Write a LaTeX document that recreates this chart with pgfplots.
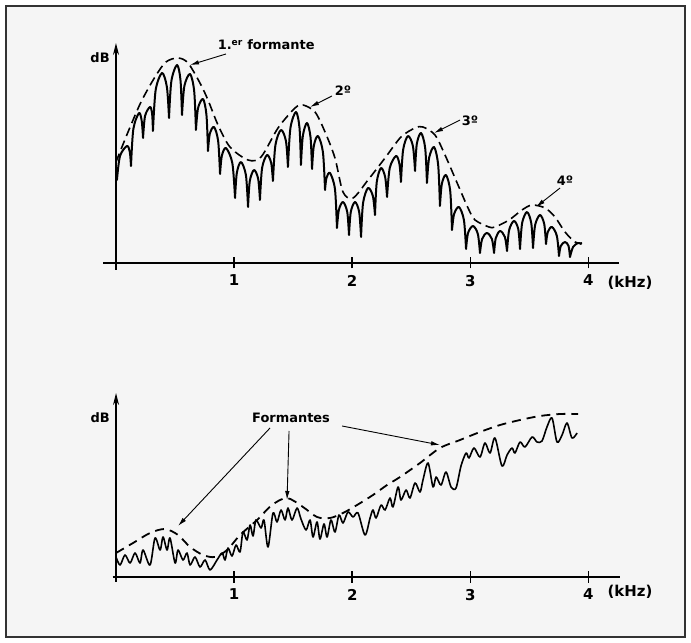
\documentclass[border=0pt]{standalone}
\usepackage{fontspec}
\setmainfont{DejaVu Sans}
\usepackage{pgfplots}
\pgfplotsset{compat=1.18}
\usetikzlibrary{arrows.meta}
\tikzset{
 ann/.style={-{Latex[length=9bp,width=4.5bp]}, line width=0.9bp},
 lab/.style={font=\bfseries\fontsize{13}{15}\selectfont, inner sep=0pt},
}
\pgfplotsset{
 myaxis/.style={
  scale only axis, axis lines=middle,
  x axis line style={-, line width=1.4bp},
  y axis line style={-{Stealth[length=12bp,width=6bp]}, line width=1.4bp},
  xtick={1,2,3,4}, ytick=\empty,
  major tick length=11bp, tick align=center,
  tick style={line width=1.5bp, black},
  xticklabel style={font=\bfseries\fontsize{15}{17}\selectfont, yshift=-3bp},
  /pgf/number format/assume math mode=true,
  clip=false,
 },
}
\begin{document}
\begin{tikzpicture}
\useasboundingbox (0,0) rectangle (691bp,643bp);
\draw[line width=1.3bp, black!80, fill=black!4] (6bp,6bp) rectangle (685bp,637bp);
% ---------------- top panel ----------------
\begin{axis}[myaxis, at={(103bp,373bp)}, anchor=south west,
  width=516.1bp, height=227bp, xmin=-0.11, xmax=4.26, ymin=-7, ymax=220]
\addplot[smooth, line width=2bp, line cap=round, line join=round, unbounded coords=jump] coordinates {
(0.008,83)(0.034,107)(0.093,117)(0.117,111)(0.127,97) (0.127,nan)
(0.127,97)(0.147,134)(0.195,150)(0.218,142)(0.229,125) (0.229,nan)
(0.229,125)(0.246,147)(0.288,156)(0.306,149)(0.313,132) (0.313,nan)
(0.313,132)(0.336,173)(0.390,190)(0.431,176)(0.449,145) (0.449,nan)
(0.449,145)(0.469,182)(0.517,198)(0.546,183)(0.559,148) (0.559,nan)
(0.559,148)(0.579,177)(0.627,189)(0.662,172)(0.677,133) (0.677,nan)
(0.677,133)(0.695,155)(0.737,164)(0.766,148)(0.779,112) (0.779,nan)
(0.779,112)(0.794,129)(0.830,136)(0.865,122)(0.881,89) (0.881,nan)
(0.881,89)(0.896,107)(0.931,115)(0.985,100)(1.008,65) (1.008,nan)
(1.008,65)(1.023,90)(1.058,101)(1.100,88)(1.118,56) (1.118,nan)
(1.118,56)(1.133,82)(1.169,93)(1.204,84)(1.219,63) (1.219,nan)
(1.219,63)(1.237,95)(1.279,108)(1.314,100)(1.329,82) (1.329,nan)
(1.329,82)(1.350,118)(1.397,133)(1.439,122)(1.456,96) (1.456,nan)
(1.456,96)(1.477,135)(1.524,151)(1.554,135)(1.566,98) (1.566,nan)
(1.566,98)(1.582,127)(1.617,140)(1.647,126)(1.660,94) (1.660,nan)
(1.660,94)(1.675,117)(1.710,127)(1.752,111)(1.770,73) (1.770,nan)
(1.770,73)(1.782,85)(1.812,90)(1.854,74)(1.871,35) (1.871,nan)
(1.871,35)(1.887,53)(1.922,61)(1.958,51)(1.973,28) (1.973,nan)
(1.973,28)(1.988,51)(2.024,61)(2.059,51)(2.075,26) (2.075,nan)
(2.075,26)(2.092,60)(2.134,75)(2.175,67)(2.193,48) (2.193,nan)
(2.193,48)(2.208,81)(2.244,95)(2.279,86)(2.295,66) (2.295,nan)
(2.295,66)(2.318,95)(2.371,107)(2.400,99)(2.413,81) (2.413,nan)
(2.413,81)(2.431,113)(2.472,127)(2.514,117)(2.532,92) (2.532,nan)
(2.532,92)(2.547,119)(2.583,130)(2.618,115)(2.633,80) (2.633,nan)
(2.633,80)(2.651,105)(2.693,116)(2.728,98)(2.743,57) (2.743,nan)
(2.743,57)(2.759,79)(2.794,88)(2.830,72)(2.845,33) (2.845,nan)
(2.845,33)(2.863,49)(2.904,56)(2.946,43)(2.964,14) (2.964,nan)
(2.964,14)(2.981,30)(3.023,37)(3.064,29)(3.082,10) (3.082,nan)
(3.082,10)(3.100,24)(3.141,30)(3.183,24)(3.201,10) (3.201,nan)
(3.201,10)(3.216,25)(3.252,32)(3.293,26)(3.311,12) (3.311,nan)
(3.311,12)(3.329,33)(3.370,42)(3.406,34)(3.421,14) (3.421,nan)
(3.421,14)(3.439,40)(3.480,51)(3.516,40)(3.531,15) (3.531,nan)
(3.531,15)(3.549,38)(3.590,48)(3.626,39)(3.641,19) (3.641,nan)
(3.641,19)(3.656,31)(3.692,36)(3.733,27)(3.751,7) (3.751,nan)
(3.751,7)(3.766,17)(3.802,21)(3.832,17)(3.844,6) (3.844,nan)
(3.844,6)(3.870,16)(3.912,20)(3.937,19)
};
\addplot[smooth, line width=1.6bp, dash pattern=on 9bp off 5bp] coordinates {
(0,101)(0.102,131)(0.212,161)(0.330,186)(0.423,201)(0.525,205)(0.610,200)
(0.711,180)(0.779,163)(0.864,138)(0.965,116)(1.118,103)(1.228,106)(1.372,135)
(1.516,155)(1.583,158)(1.685,151)(1.770,131)(1.854,105)(1.922,71)(2.007,65)
(2.134,83)(2.278,105)(2.413,126)(2.532,135)(2.599,136)(2.701,128)(2.786,108)
(2.896,78)(2.981,55)(3.040,43)(3.158,36)(3.209,36)(3.328,43)(3.438,53)
(3.523,58)(3.633,55)(3.717,46)(3.802,31)(3.887,21)(3.946,20)
};
\node[lab, anchor=base west] at (axis cs:0.86,213) {1.\textsuperscript{er} formante};
\draw[ann] (axis cs:0.931,209) -- (axis cs:0.627,198);
\node[lab] at (axis cs:1.922,172) {2º};
\draw[ann] (axis cs:1.829,167) -- (axis cs:1.643,156);
\node[lab] at (axis cs:2.997,142) {3º};
\draw[ann] (axis cs:2.913,143) -- (axis cs:2.693,130);
\node[lab] at (axis cs:3.802,82) {4º};
\draw[ann] (axis cs:3.760,75) -- (axis cs:3.556,56);
\node[lab] at (axis cs:-0.135,205) {dB};
\node[lab, font=\bfseries\fontsize{15}{17}\selectfont] at (axis cs:4.352,-20) {(kHz)};
\end{axis}
% ---------------- bottom panel ----------------
\begin{axis}[myaxis, at={(112.5bp,61bp)}, anchor=south west,
  width=507.8bp, height=189bp, xmin=-0.03, xmax=4.27, ymin=-5, ymax=184]
\addplot[smooth, line width=1.6bp, line join=round] coordinates {
(0.000,20)(0.034,12)(0.076,22)(0.119,14)(0.161,24)(0.203,14)(0.229,27)(0.288,12)
(0.330,39)(0.373,27)(0.398,40)(0.432,27)(0.457,39)(0.500,14)(0.525,27)(0.567,17)
(0.601,24)(0.627,12)(0.669,20)(0.711,10)(0.754,17)(0.796,7)(0.855,17)(0.898,24)
(0.923,17)(0.948,29)(0.982,21)(1.016,32)(1.050,25)(1.075,45)(1.109,37)(1.135,52)
(1.160,41)(1.185,57)(1.228,49)(1.253,57)(1.287,30)(1.329,64)(1.363,55)(1.397,67)
(1.431,57)(1.456,69)(1.490,57)(1.533,69)(1.566,58)(1.609,47)(1.643,57)(1.668,40)
(1.702,55)(1.727,38)(1.761,53)(1.787,40)(1.820,57)(1.854,45)(1.888,62)(1.922,54)
(1.964,65)(2.007,60)(2.049,64)(2.108,42)(2.151,59)(2.176,67)(2.202,59)(2.244,72)
(2.278,67)(2.320,79)(2.345,70)(2.388,90)(2.413,77)(2.456,87)(2.489,79)(2.532,94)
(2.574,85)(2.599,97)(2.642,114)(2.684,90)(2.710,100)(2.752,92)(2.794,105)(2.837,90)
(2.879,89)(2.921,111)(2.964,124)(2.989,119)(3.031,129)(3.082,120)(3.124,134)(3.167,124)
(3.209,139)(3.268,111)(3.311,122)(3.353,129)(3.378,124)(3.421,135)(3.463,130)(3.523,140)
(3.565,135)(3.607,136)(3.649,150)(3.692,159)(3.734,135)(3.777,142)(3.819,154)(3.861,139)
(3.904,144)
};
\addplot[smooth, line width=1.8bp, dash pattern=on 9bp off 6bp] coordinates {
(0,24)(0.144,34)(0.288,44)(0.415,48)(0.525,42)(0.627,30)(0.737,22)(0.838,20)
(0.940,27)(1.050,42)(1.194,57)(1.321,72)(1.448,79)(1.583,70)(1.702,60)(1.812,59)
(1.922,64)(2.041,72)(2.176,82)(2.295,92)(2.405,100)(2.574,114)(2.743,129)(2.913,137)
(3.082,145)(3.252,152)(3.421,157)(3.590,161)(3.760,163)(3.912,163)
};
\node[lab] at (axis cs:1.482,159) {Formantes};
\draw[ann] (axis cs:1.304,149) -- (axis cs:0.525,51);
\draw[ann] (axis cs:1.465,146) -- (axis cs:1.448,77);
\draw[ann] (axis cs:1.914,151) -- (axis cs:2.743,132);
\node[lab] at (axis cs:-0.135,159) {dB};
\node[lab, font=\bfseries\fontsize{15}{17}\selectfont] at (axis cs:4.352,-15) {(kHz)};
\end{axis}
\end{tikzpicture}
\end{document}
